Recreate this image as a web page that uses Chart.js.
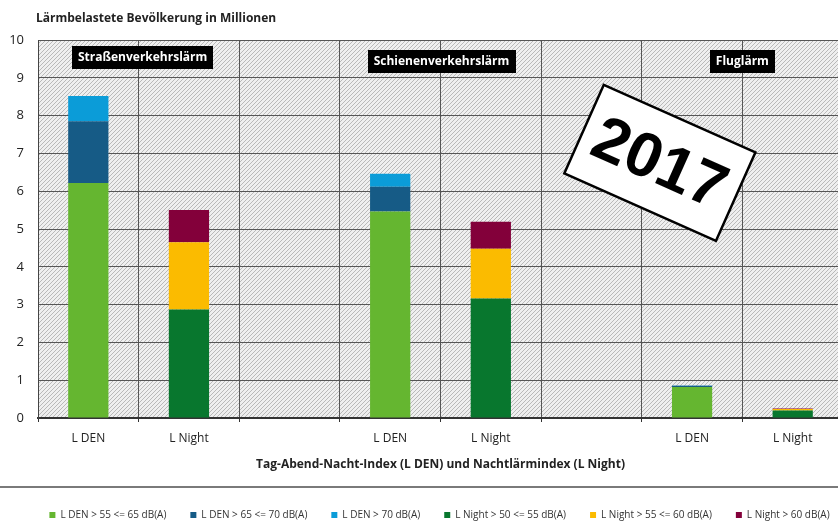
<!DOCTYPE html>
<html><head><meta charset="utf-8">
<script src="https://cdn.jsdelivr.net/npm/chart.js@4/dist/chart.umd.min.js"></script>
<style>
html,body{margin:0;padding:0;background:#fff;overflow:hidden;}
#wrap{position:relative;width:844px;height:523px;}
</style></head><body>
<div id="wrap"><canvas id="c"></canvas></div>
<script>
// ---- data ----
const categories = ['L DEN','L Night','','L DEN','L Night','','L DEN','L Night'];
const groupLabels = ['Straßenverkehrslärm','Schienenverkehrslärm','Fluglärm'];
const yTickLabels = ['0','1','2','3','4','5','6','7','8','9','10'];
const chartTitle = 'Lärmbelastete Bevölkerung in Millionen';
const xAxisTitle = 'Tag-Abend-Nacht-Index (L DEN) und Nachtlärmindex (L Night)';
const stampText = '2017';
const seriesNames = ['L DEN > 55 <= 65 dB(A)','L DEN > 65 <= 70 dB(A)','L DEN > 70 dB(A)',
                     'L Night > 50 <= 55 dB(A)','L Night > 55 <= 60 dB(A)','L Night > 60 dB(A)'];
const denLow    = [6.22, null, null, 5.46, null, null, 0.82, null];
const denMid    = [1.63, null, null, 0.66, null, null, 0.03, null];
const denHigh   = [0.67, null, null, 0.34, null, null, 0.01, null];
const nightLow  = [null, 2.87, null, null, 3.16, null, null, 0.20];
const nightMid  = [null, 1.78, null, null, 1.32, null, null, 0.04];
const nightHigh = [null, 0.85, null, null, 0.71, null, null, 0.01];

// ---- styles ----
const seriesColors = ['#65b630','#165b86','#0b9cd8','#08772e','#fbbb00','#83003a'];
const FONT = "'Open Sans', 'DejaVu Sans', sans-serif";

const seriesValues = [denLow, denMid, denHigh, nightLow, nightMid, nightHigh];
const datasets = seriesNames.map((n, i) => ({
  label: n,
  data: seriesValues[i],
  backgroundColor: seriesColors[i],
  borderWidth: 0,
  barPercentage: 0.4,
  categoryPercentage: 1.0
}));

const hatchPlugin = {
  id: 'hatch',
  beforeDraw(chart) {
    const {ctx, chartArea: a} = chart;
    const h = a.bottom - a.top;
    ctx.save();
    ctx.beginPath();
    ctx.rect(a.left, a.top, a.right - a.left, h);
    ctx.clip();
    ctx.fillStyle = '#efefef';
    ctx.fillRect(a.left, a.top, a.right - a.left, h);
    ctx.strokeStyle = '#b9b9b9';
    ctx.lineWidth = 1;
    ctx.beginPath();
    for (let k = a.left - h; k < a.right + 4; k += 4) {
      ctx.moveTo(k, a.bottom);
      ctx.lineTo(k + h, a.top);
    }
    ctx.stroke();
    ctx.restore();
  }
};

const legendShiftPlugin = {
  id: 'legendShift',
  afterLayout(chart) {
    const lg = chart.legend;
    if (lg) { lg.left += 18; lg.right += 18; }
  }
};

const overlayPlugin = {
  id: 'overlay',
  afterDraw(chart) {
    const {ctx, chartArea: a, scales: {x, y}} = chart;
    ctx.save();
    // chart title
    ctx.font = "bold 12px " + FONT;
    ctx.fillStyle = '#222';
    ctx.textBaseline = 'middle';
    ctx.textAlign = 'left';
    ctx.fillText(chartTitle, a.left - 2, a.top - 21);

    // group labels
    const dx = [4, 1, 0], dy = [6, 10, 10];
    ctx.font = "bold 12px " + FONT;
    groupLabels.forEach((g, i) => {
      const cx = (x.getPixelForValue(3 * i) + x.getPixelForValue(3 * i + 1)) / 2 + dx[i];
      const w = ctx.measureText(g).width + 12;
      const top = a.top + dy[i];
      ctx.fillStyle = '#000';
      ctx.fillRect(Math.round(cx - w / 2), top, Math.round(w), 23);
      ctx.fillStyle = '#fff';
      ctx.textAlign = 'center';
      ctx.fillText(g, cx, top + 12);
    });

    // separator line above legend
    const lg = chart.legend;
    ctx.strokeStyle = '#7a7a7a';
    ctx.lineWidth = 2;
    ctx.beginPath();
    ctx.moveTo(0, lg.top + 1);
    ctx.lineTo(chart.width, lg.top + 1);
    ctx.stroke();

    // 2017 stamp
    const sx = x.getPixelForValue(5.68), sy = y.getPixelForValue(6.75);
    ctx.translate(sx, sy);
    ctx.rotate(24 * Math.PI / 180);
    ctx.fillStyle = '#fff';
    ctx.fillRect(-83, -48.5, 166, 97);
    ctx.strokeStyle = '#000';
    ctx.lineWidth = 2.5;
    ctx.strokeRect(-83, -48.5, 166, 97);
    ctx.fillStyle = '#000';
    ctx.font = "bold 63px 'Liberation Sans', sans-serif";
    ctx.textAlign = 'center';
    ctx.textBaseline = 'middle';
    ctx.fillText(stampText, 0, 3);
    ctx.restore();
  }
};

new Chart(document.getElementById('c'), {
  type: 'bar',
  data: { labels: categories, datasets },
  plugins: [hatchPlugin, legendShiftPlugin, overlayPlugin],
  options: {
    responsive: true,
    maintainAspectRatio: false,
    animation: false,
    layout: { padding: { top: 40, bottom: -7, left: 0, right: 1 } },
    plugins: {
      tooltip: { enabled: false },
      title: { display: false },
      legend: {
        position: 'bottom',
        fullSize: true,
        labels: {
          boxWidth: 6, boxHeight: 6, padding: 24,
          color: '#333',
          font: { family: FONT, size: 10 }
        }
      }
    },
    scales: {
      x: {
        stacked: true,
        afterFit(s) { s.height = 68; },
        grid: { color: '#555', lineWidth: 1, offset: true, tickLength: 4, tickColor: '#333' },
        border: { color: '#333', width: 2 },
        ticks: { autoSkip: false, maxRotation: 0, padding: 9, color: '#222',
                 font: { family: FONT, size: 12 } },
        title: { display: true, text: xAxisTitle, color: '#222',
                 font: { family: FONT, size: 12, weight: 'bold' },
                 padding: { top: 12, bottom: 14 } }
      },
      y: {
        stacked: true,
        min: 0, max: 10,
        afterFit(s) { s.width = 38; },
        grid: { color: '#555', lineWidth: 1, drawTicks: false },
        border: { color: '#444', width: 1 },
        ticks: { stepSize: 1, padding: 14, color: '#222',
                 font: { family: FONT, size: 13 },
                 callback: (v) => yTickLabels[v] ?? '' }
      }
    }
  }
});
</script>
</body></html>
